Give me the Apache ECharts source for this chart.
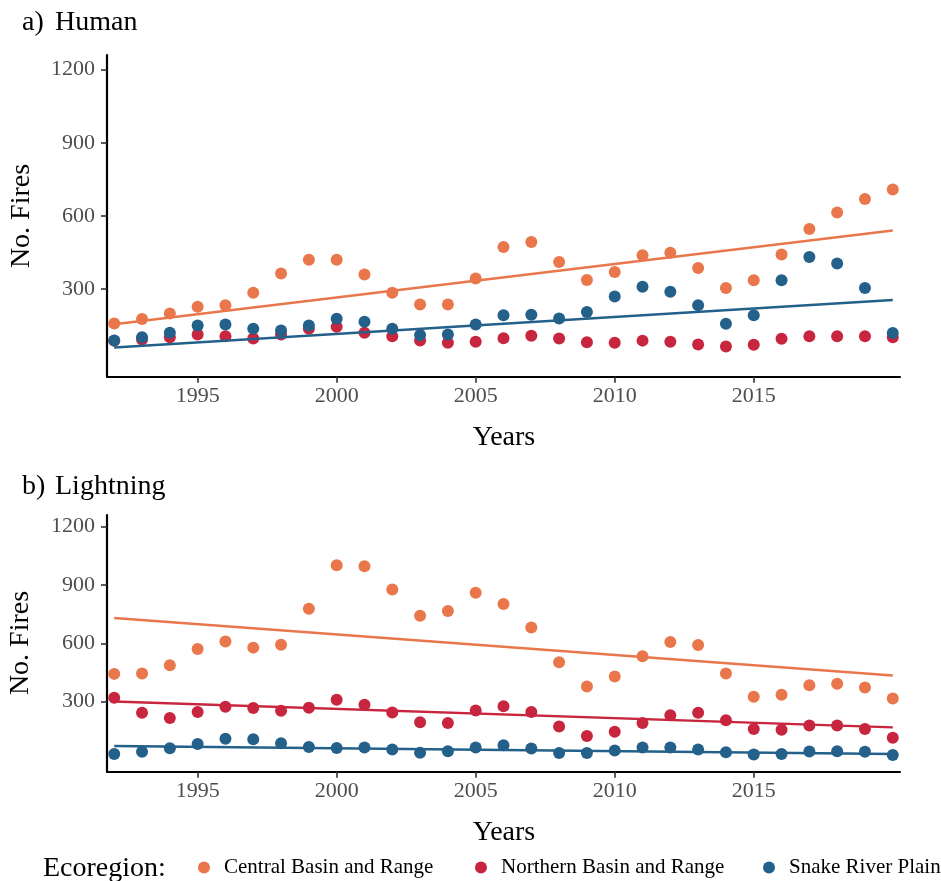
<!DOCTYPE html>
<html>
<head>
<meta charset="utf-8">
<script src="https://cdn.jsdelivr.net/npm/echarts@6/dist/echarts.min.js"></script>
<style>
  html, body { margin: 0; padding: 0; background: #ffffff; }
  #chart { width: 941px; height: 881px; }
</style>
</head>
<body>
<div id="chart"></div>
<script>
// Annual fire counts per ecoregion, 1992–2020
const years = [1992,1993,1994,1995,1996,1997,1998,1999,2000,2001,2002,2003,2004,2005,2006,2007,2008,2009,2010,2011,2012,2013,2014,2015,2016,2017,2018,2019,2020];

const ecoregions = ['Central Basin and Range', 'Northern Basin and Range', 'Snake River Plain'];

// a) Human-caused fires
const humanCentral  = [158,177,199,227,233,284,363,420,420,359,284,236,236,343,472,493,411,337,370,438,449,386,304,336,441,546,614,669,708];
const humanNorthern = [88,93,102,113,106,97,113,137,145,120,106,89,79,83,98,108,97,81,79,88,83,72,64,71,96,106,106,106,102];
const humanSnake    = [89,102,120,150,154,137,130,150,178,165,137,111,113,154,192,194,179,205,269,309,289,233,157,192,336,431,404,304,119];

// b) Lightning-caused fires
const lightningCentral  = [443,445,487,571,609,578,593,778,1002,997,877,742,766,860,802,682,503,378,429,534,607,592,445,325,336,385,392,373,317];
const lightningNorthern = [320,243,216,247,274,267,254,269,310,284,245,194,190,255,277,247,172,124,146,190,230,243,204,159,156,177,177,159,115];
const lightningSnake    = [31,42,60,83,110,107,86,67,62,65,54,38,45,65,76,59,36,36,49,64,64,54,40,28,31,44,45,42,26];

// Linear trend values at the first and last year
const humanTrendCentral      = [155, 540];
const humanTrendSnake        = [60, 255];
const lightningTrendCentral  = [730, 435];
const lightningTrendNorthern = [301, 168];
const lightningTrendSnake    = [72, 31];

// Axis ticks
const xTicks = [1995, 2000, 2005, 2010, 2015];
const yTicks = [300, 600, 900, 1200];

const colors = {
  'Central Basin and Range': '#E9774B',
  'Northern Basin and Range': '#C8253E',
  'Snake River Plain': '#23608A'
};

const FONT = '"Liberation Serif", "Times New Roman", "DejaVu Serif", serif';

const toPairs = (vals) => vals.map((v, i) => [years[i], v]);
const trendPairs = (ends) => [[years[0], ends[0]], [years[years.length - 1], ends[1]]];

function scatter(name, vals, idx) {
  return {
    type: 'scatter', name: name,
    xAxisIndex: idx, yAxisIndex: idx,
    data: toPairs(vals),
    symbol: 'circle', symbolSize: 12,
    itemStyle: { color: colors[name], opacity: 1 },
    emphasis: { disabled: true },
    z: 2
  };
}
function trend(name, ends, idx) {
  return {
    type: 'line', name: name + ' trend',
    xAxisIndex: idx, yAxisIndex: idx,
    data: trendPairs(ends),
    showSymbol: false, symbol: 'none',
    lineStyle: { color: colors[name], width: 2.4 },
    emphasis: { disabled: true },
    z: 3
  };
}

const xAxisBase = (idx) => ({
  type: 'value', gridIndex: idx,
  min: 1991.74, max: 2020.26,
  axisLine: { show: true, onZero: false, lineStyle: { color: '#000', width: 2.2 } },
  axisTick: { show: true, customValues: xTicks, length: 6, lineStyle: { color: '#333', width: 1.6 } },
  axisLabel: { show: true, customValues: xTicks, margin: 9, color: '#4D4D4D', fontFamily: FONT, fontSize: 22, formatter: (v) => String(v) },
  splitLine: { show: false }
});
const yAxisBase = (idx) => ({
  type: 'value', gridIndex: idx,
  min: -60, max: 1260,
  axisLine: { show: true, onZero: false, lineStyle: { color: '#000', width: 2.2 } },
  axisTick: { show: true, customValues: yTicks, length: 6, lineStyle: { color: '#333', width: 1.6 } },
  axisLabel: { show: true, customValues: yTicks, margin: 12, color: '#4D4D4D', fontFamily: FONT, fontSize: 22, formatter: (v) => String(v) },
  splitLine: { show: false }
});

function label(text, x, y, size, opts) {
  return Object.assign({
    type: 'text', x: x, y: y,
    style: Object.assign({ text: text, fill: '#000', font: size + 'px ' + FONT, textAlign: 'left', textVerticalAlign: 'middle' }, (opts && opts.style) || {})
  }, (opts && opts.el) || {});
}

function legendFor(name, left) {
  return {
    data: [name], left: left, top: 852, orient: 'horizontal',
    icon: 'circle', itemWidth: 30, itemHeight: 12,
    selectedMode: false,
    textStyle: { fontFamily: FONT, fontSize: 21, color: '#000' }
  };
}

const chart = echarts.init(document.getElementById('chart'), null, { renderer: 'canvas' });

chart.setOption({
  backgroundColor: '#ffffff',
  animation: false,
  grid: [
    { left: 107, top: 55, width: 793, height: 321.7 },
    { left: 107, top: 515, width: 793, height: 256.7 }
  ],
  xAxis: [xAxisBase(0), xAxisBase(1)],
  yAxis: [yAxisBase(0), yAxisBase(1)],
  legend: [
    legendFor(ecoregions[0], 193),
    legendFor(ecoregions[1], 470),
    legendFor(ecoregions[2], 758)
  ],
  graphic: [
    label('a)', 22, 23, 28),
    label('Human', 55, 23, 28),
    label('b)', 22, 487, 28),
    label('Lightning', 55, 487, 28),
    label('No. Fires', 22, 216, 28, { el: { rotation: Math.PI / 2 }, style: { textAlign: 'center' } }),
    label('No. Fires', 21, 643, 28, { el: { rotation: Math.PI / 2 }, style: { textAlign: 'center' } }),
    label('Years', 504, 438, 28, { style: { textAlign: 'center' } }),
    label('Years', 504, 833, 28, { style: { textAlign: 'center' } }),
    label('Ecoregion:', 43, 869, 28)
  ],
  series: [
    scatter(ecoregions[0], humanCentral, 0),
    scatter(ecoregions[1], humanNorthern, 0),
    scatter(ecoregions[2], humanSnake, 0),
    trend(ecoregions[0], humanTrendCentral, 0),
    trend(ecoregions[2], humanTrendSnake, 0),
    scatter(ecoregions[0], lightningCentral, 1),
    scatter(ecoregions[1], lightningNorthern, 1),
    scatter(ecoregions[2], lightningSnake, 1),
    trend(ecoregions[0], lightningTrendCentral, 1),
    trend(ecoregions[1], lightningTrendNorthern, 1),
    trend(ecoregions[2], lightningTrendSnake, 1)
  ]
});
</script>
</body>
</html>
